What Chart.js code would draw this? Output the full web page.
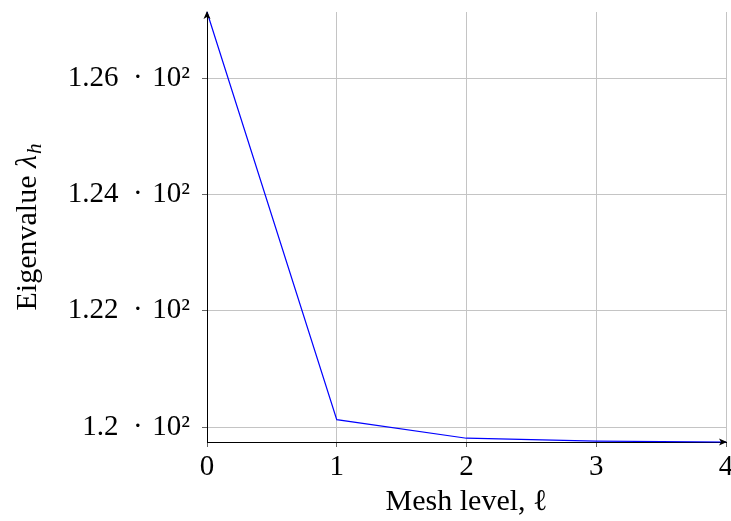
<!DOCTYPE html>
<html><head><meta charset="utf-8">
<script src="https://cdn.jsdelivr.net/npm/chart.js@4/dist/chart.umd.min.js"></script>
<style>html,body{margin:0;padding:0;background:#fff}#wrap{width:731px;height:521px}</style>
</head><body><div id="wrap"><canvas id="c" width="731" height="521"></canvas></div>
<script>
const meshLevels = [0, 1, 2, 3, 4];
const eigenvalues = [127.14, 120.13, 119.81, 119.76, 119.745];
const yTickValues = [120, 122, 124, 126];
const yTickLabels = ['1.2\u2002·\u200410²', '1.22\u2002·\u200410²', '1.24\u2002·\u200410²', '1.26\u2002·\u200410²'];
const xTickValues = [0, 1, 2, 3, 4];
const xTitle = 'Mesh level, ℓ';
const yTitleWord = 'Eigenvalue ';
const yTitleSymbol = 'λ';
const yTitleSub = 'h';

const serif = "'Liberation Serif', 'DejaVu Serif', serif";
const FS = 29;
const TFS = 30;

const decorations = {
  id: 'decorations',
  afterDraw(chart) {
    const {ctx, chartArea: a} = chart;
    ctx.save();
    ctx.fillStyle = '#000';
    ctx.beginPath();
    ctx.moveTo(a.left, a.top - 1);
    ctx.lineTo(a.left - 3.5, a.top + 7);
    ctx.lineTo(a.left, a.top + 5);
    ctx.lineTo(a.left + 3.5, a.top + 7);
    ctx.closePath();
    ctx.fill();
    ctx.beginPath();
    ctx.moveTo(a.right + 1, a.bottom);
    ctx.lineTo(a.right - 7, a.bottom - 3.5);
    ctx.lineTo(a.right - 5, a.bottom);
    ctx.lineTo(a.right - 7, a.bottom + 3.5);
    ctx.closePath();
    ctx.fill();
    ctx.restore();

    ctx.save();
    const fMain = `${TFS}px ${serif}`;
    const fIt = `italic ${TFS}px ${serif}`;
    const fSub = `italic ${Math.round(TFS * 0.7)}px ${serif}`;
    ctx.font = fMain; const w1 = ctx.measureText(yTitleWord).width;
    ctx.font = fIt; const w2 = ctx.measureText(yTitleSymbol).width;
    ctx.font = fSub; const w3 = ctx.measureText(yTitleSub).width;
    const total = w1 + w2 + 1 + w3;
    const cy = (a.top + a.bottom) / 2;
    ctx.translate(36, cy);
    ctx.rotate(-Math.PI / 2);
    ctx.fillStyle = '#000';
    ctx.textBaseline = 'alphabetic';
    ctx.textAlign = 'left';
    let x = -total / 2;
    ctx.font = fMain; ctx.fillText(yTitleWord, x, 0); x += w1;
    ctx.font = fIt; ctx.fillText(yTitleSymbol, x, 0); x += w2 + 1;
    ctx.font = fSub; ctx.fillText(yTitleSub, x, 5);
    ctx.restore();
  }
};

new Chart(document.getElementById('c'), {
  type: 'line',
  data: {
    datasets: [{
      data: meshLevels.map((x, i) => ({x, y: eigenvalues[i]})),
      borderColor: '#0000ff',
      borderWidth: 1.2,
      pointRadius: 0,
      tension: 0,
      fill: false,
      clip: false
    }]
  },
  options: {
    responsive: false,
    animation: false,
    devicePixelRatio: 1,
    layout: {padding: {top: 12, right: 5, left: 0, bottom: 0}},
    plugins: {legend: {display: false}, tooltip: {enabled: false}},
    scales: {
      x: {
        type: 'linear',
        min: 0, max: 4,
        afterBuildTicks: s => { s.ticks = xTickValues.map(v => ({value: v})); },
        afterFit: s => { s.height = 79; s.paddingLeft = 0; s.paddingRight = 0; },
        grid: {color: '#c4c4c4', lineWidth: 1, tickLength: 5, tickColor: '#666', drawOnChartArea: true},
        border: {color: '#000', width: 1},
        ticks: {color: '#000', font: {family: serif, size: FS}, padding: 3, maxRotation: 0,
          callback: v => String(v)},
        title: {display: true, text: xTitle, color: '#000', font: {family: serif, size: TFS}, padding: {top: 0, bottom: 1}}
      },
      y: {
        type: 'linear',
        min: 119.745, max: 127.14,
        afterBuildTicks: s => { s.ticks = yTickValues.map(v => ({value: v})); },
        afterFit: s => { s.width = 207; s.paddingTop = 0; s.paddingBottom = 0; },
        grid: {color: '#c4c4c4', lineWidth: 1, tickLength: 5, tickColor: '#666', drawOnChartArea: true},
        border: {color: '#000', width: 1},
        ticks: {color: '#000', font: {family: serif, size: FS}, padding: 12,
          callback: v => { const i = yTickValues.indexOf(v); return i >= 0 ? yTickLabels[i] : ''; }},
        title: {display: false}
      }
    }
  },
  plugins: [decorations]
});
</script></body></html>
